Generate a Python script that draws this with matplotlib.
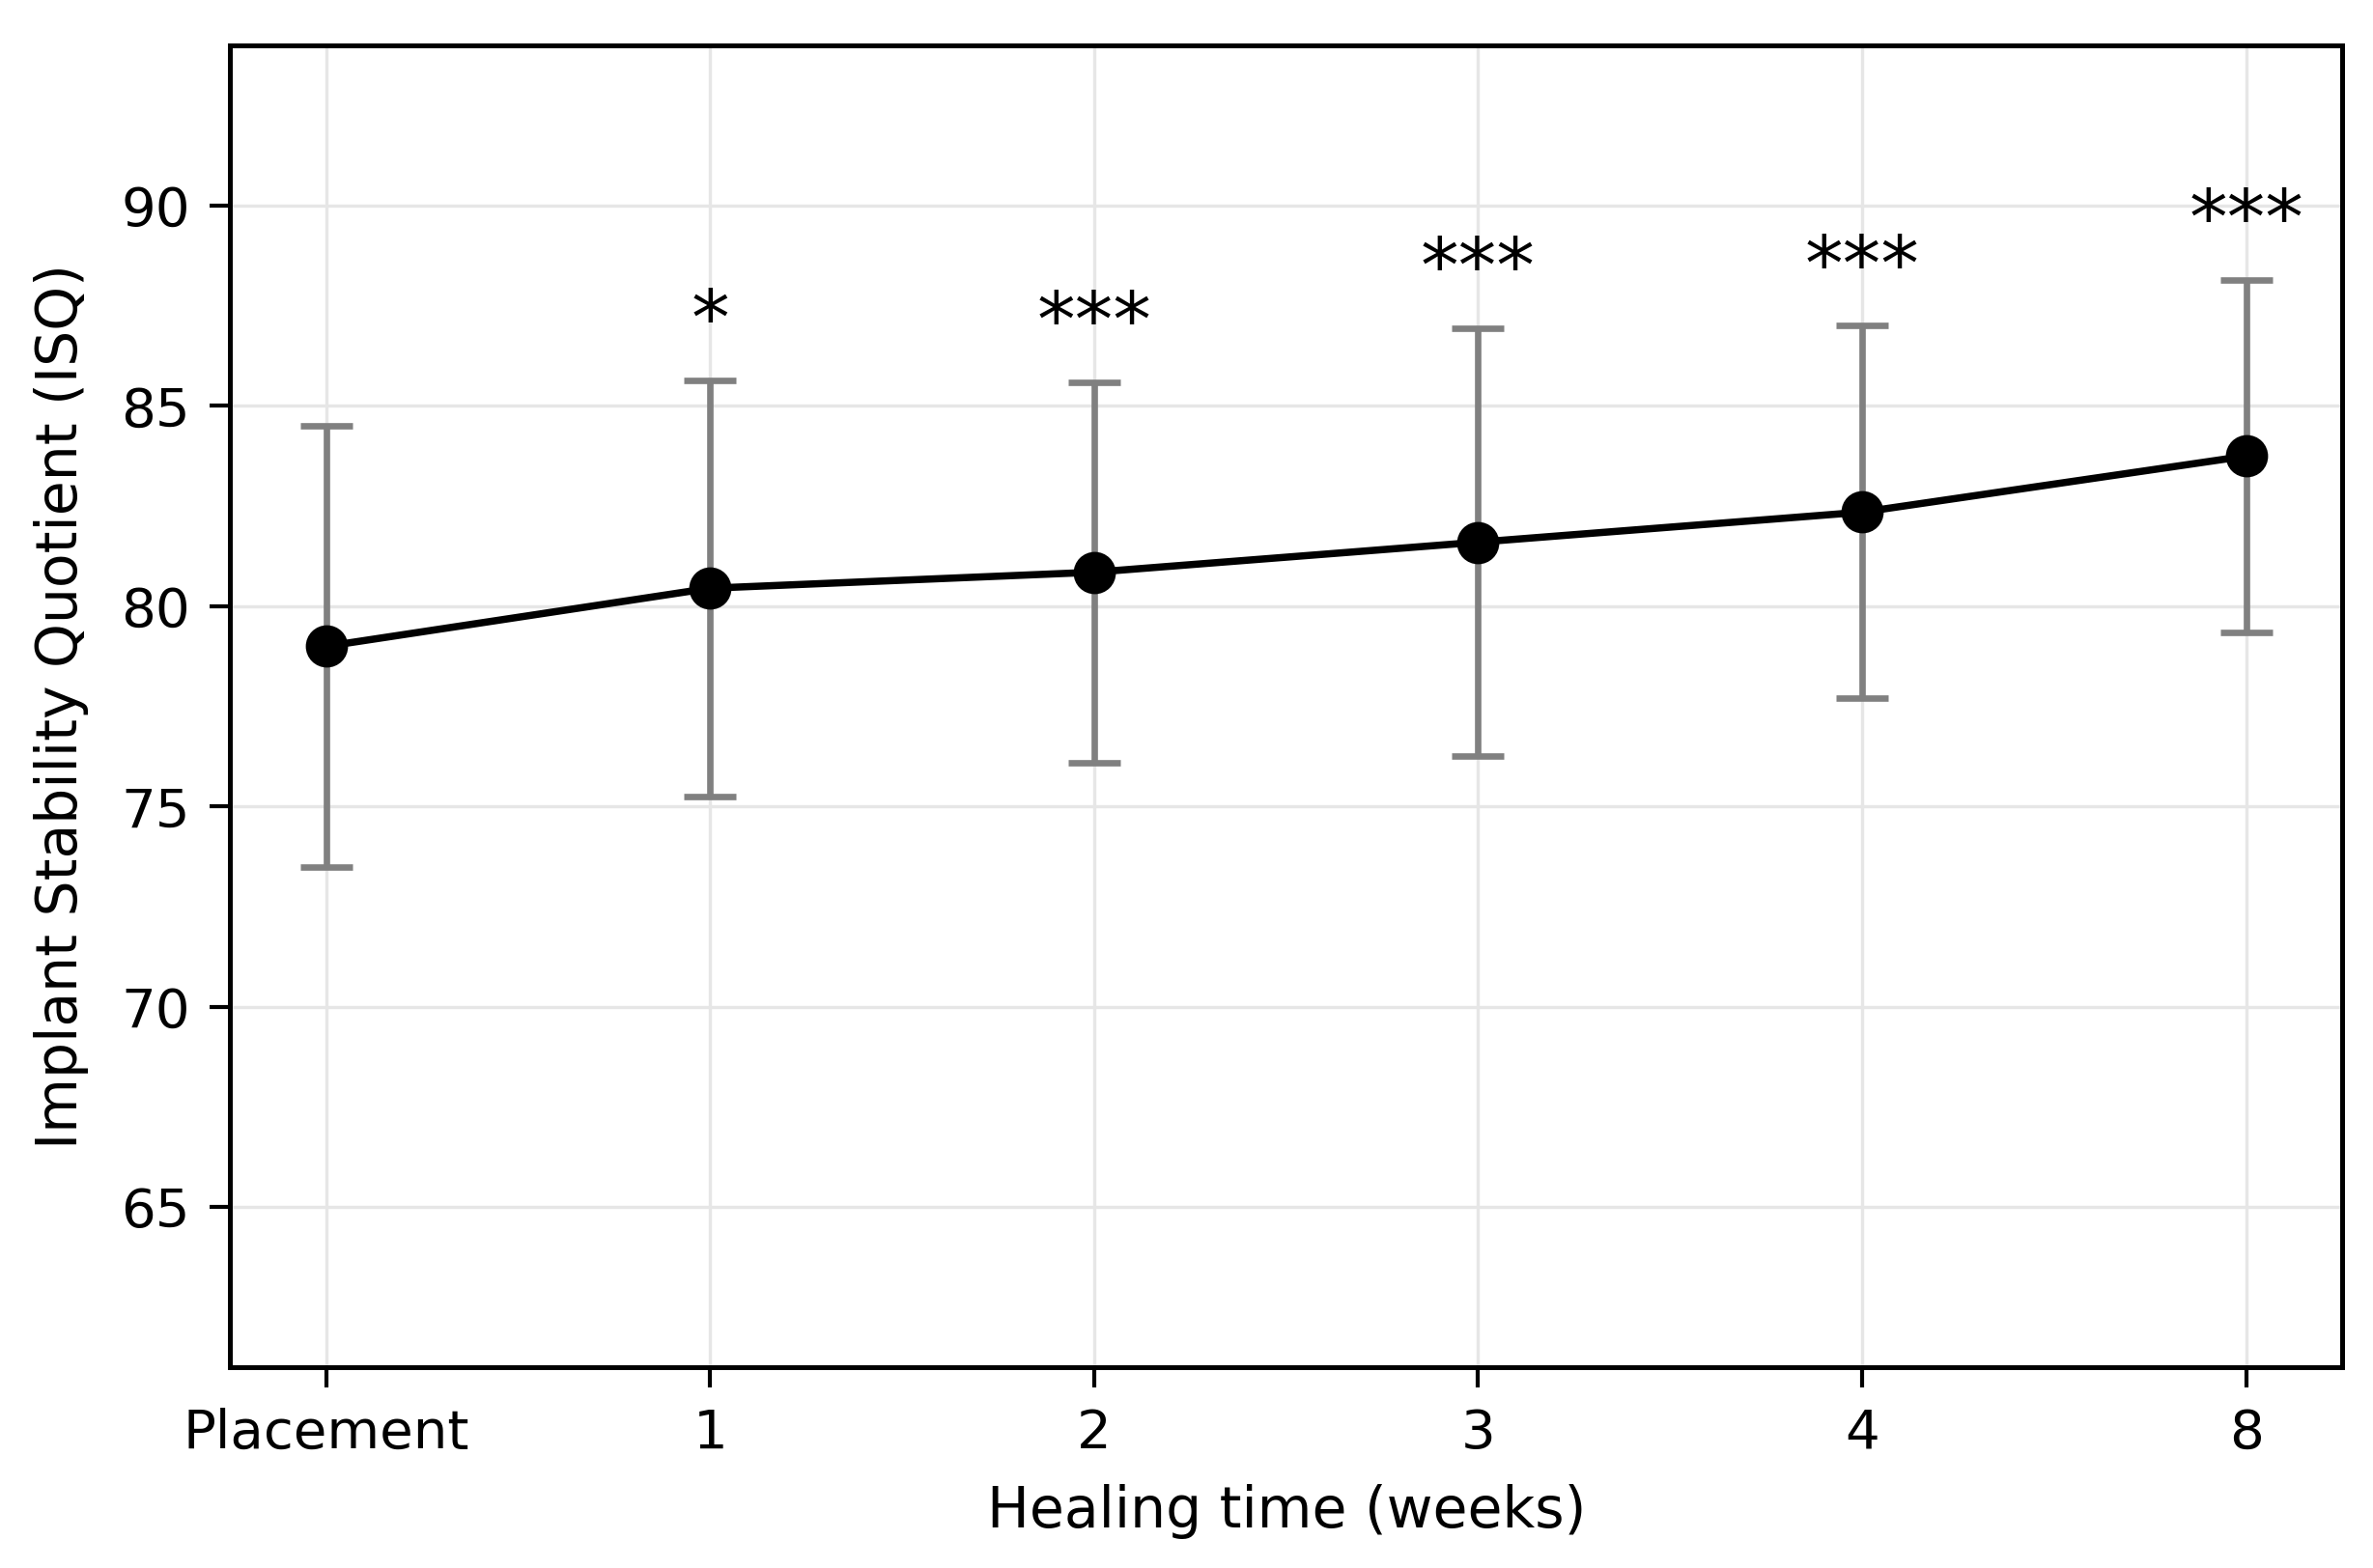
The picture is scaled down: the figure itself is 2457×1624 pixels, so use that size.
import matplotlib
matplotlib.use("Agg")
import matplotlib.pyplot as plt

# ISQ values
timepoints = ["Placement", "1", "2", "3", "4", "8"]
isq_mean = [79.0, 80.45, 80.85, 81.6, 82.35, 83.75]
isq_sd = [5.5, 5.2, 4.75, 5.35, 4.65, 4.4]
signif = ["", "*", "***", "***", "***", "***"]

plt.rcParams['font.family'] = ['DejaVu Sans']

fig = plt.figure(figsize=(2457 / 300, 1624 / 300), dpi=300)
ax = fig.add_axes([0.097, 0.128, 0.890, 0.843])

x = list(range(len(timepoints)))
ax.errorbar(x, isq_mean, yerr=isq_sd, fmt='none', ecolor='#808080',
            elinewidth=1.6, capsize=6.5, capthick=1.6, zorder=2)
ax.plot(x, isq_mean, color='black', linewidth=1.8, marker='o',
        markersize=9.5, zorder=3)

# significance stars above each error bar
for xi, m, s, lab in zip(x, isq_mean, isq_sd, signif):
    if lab:
        ax.text(xi, m + s + 0.9, lab, ha='center', va='baseline',
                fontsize=19, color='black')

ax.set_xlim(-0.25, 5.25)
ax.set_ylim(61, 94)
ax.set_yticks([65, 70, 75, 80, 85, 90])
ax.set_xticks(x)
ax.set_xticklabels(timepoints)
ax.tick_params(labelsize=13.5, width=1.0, length=5, pad=5)
ax.grid(True, color='#e6e6e6', linewidth=0.8)
ax.set_axisbelow(True)
for sp in ax.spines.values():
    sp.set_linewidth(1.2)

ax.set_xlabel("Healing time (weeks)", fontsize=14, labelpad=6)
ax.set_ylabel("Implant Stability Quotient (ISQ)", fontsize=14, labelpad=8)

fig.savefig("out.png", dpi=300)
